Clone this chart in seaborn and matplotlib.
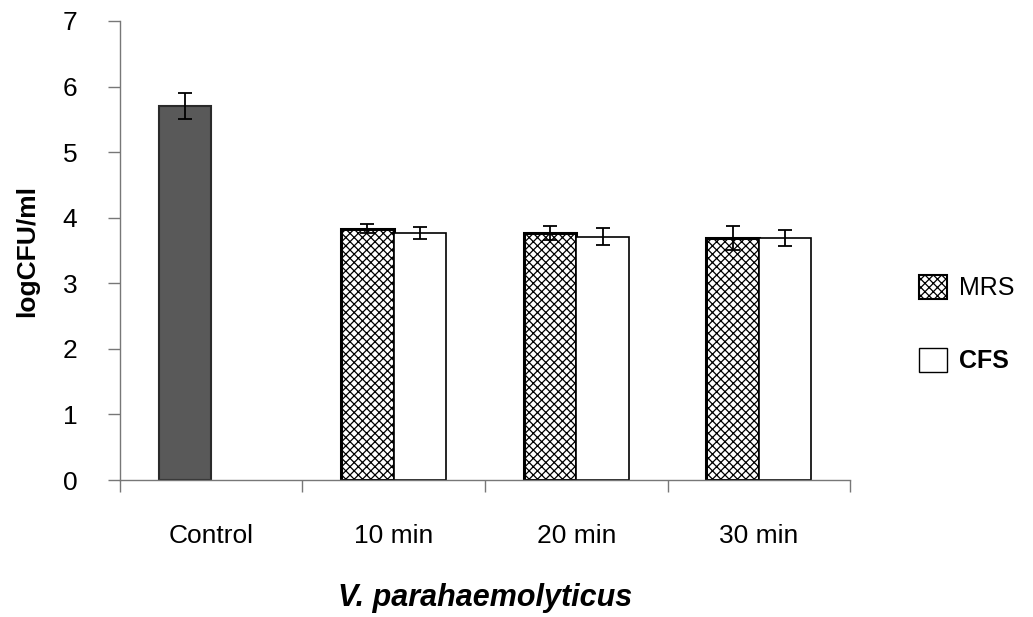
import numpy as np
import pandas as pd
import matplotlib
matplotlib.use("Agg")
import matplotlib.pyplot as plt
import seaborn as sns
from matplotlib.patches import Patch

categories = ["Control", "10 min", "20 min", "30 min"]
mrs_values = [5.70, 3.83, 3.77, 3.69]
mrs_errors = [0.20, 0.07, 0.11, 0.18]
cfs_values = [np.nan, 3.77, 3.71, 3.69]
cfs_errors = [np.nan, 0.09, 0.13, 0.12]
series = ["MRS", "CFS"]
y_ticks = [0, 1, 2, 3, 4, 5, 6, 7]

sns.set_theme(style="white")
plt.rcParams['font.family'] = ['Liberation Sans', 'DejaVu Sans']
plt.rcParams['text.color'] = 'black'
plt.rcParams['axes.labelcolor'] = 'black'
plt.rcParams['xtick.color'] = 'black'
plt.rcParams['ytick.color'] = 'black'
plt.rcParams['hatch.linewidth'] = 0.9

df = pd.DataFrame({
    "group": categories * 2,
    "series": [series[0]] * 4 + [series[1]] * 4,
    "value": mrs_values + cfs_values,
})

fig = plt.figure(figsize=(10.33, 6.17), dpi=100)
ax = fig.add_axes([0.116, 0.222, 0.707, 0.744])

sns.barplot(data=df, x="group", y="value", hue="series", order=categories,
            hue_order=series, width=0.575, gap=0, errorbar=None, ax=ax,
            legend=False, palette=["white", "white"])

for p in list(ax.patches):
    xc = p.get_x() + p.get_width() / 2
    i = int(round(xc))
    is_mrs = xc < i
    if is_mrs:
        v, e = mrs_values[i], mrs_errors[i]
        if categories[i] == "Control":
            p.set_facecolor("#595959")
            p.set_edgecolor("#2a2a2a")
            p.set_linewidth(1.5)
        else:
            p.set_facecolor("white")
            p.set_edgecolor("black")
            p.set_hatch("xxxx")
            p.set_linewidth(2.2)
    else:
        v, e = cfs_values[i], cfs_errors[i]
        p.set_facecolor("white")
        p.set_edgecolor("black")
        p.set_linewidth(1.2)
    if not np.isnan(v):
        ax.errorbar(xc, v, yerr=e, color="black", capsize=5, elinewidth=1.3,
                    capthick=1.3, fmt="none", zorder=5)

n = len(categories)
ax.set_ylim(0, 7)
ax.set_yticks(y_ticks)
ax.set_xlim(-0.5, n - 0.5)
ax.set_xticks(range(n))
ax.set_xticklabels(categories)
ax.set_xticks(np.arange(-0.5, n, 1.0), minor=True)
ax.tick_params(axis="x", which="major", length=0, pad=32, labelsize=19)
ax.tick_params(axis="x", which="minor", length=8.5, width=1, color="#777777", direction="out", bottom=True)
ax.tick_params(axis="y", length=8.5, width=1, color="#777777", direction="out", left=True, labelsize=19, pad=22)

for s in ["top", "right"]:
    ax.spines[s].set_visible(False)
for s in ["left", "bottom"]:
    ax.spines[s].set_color("#777777")
    ax.spines[s].set_linewidth(1)

ax.set_ylabel("logCFU/ml", fontsize=19, fontweight="bold", labelpad=17)
ax.set_xlabel("V. parahaemolyticus", fontsize=22, fontweight="bold", style="italic", labelpad=25)

handles = [Patch(facecolor="white", edgecolor="black", hatch="xxxx", linewidth=1.5),
           Patch(facecolor="white", edgecolor="black", linewidth=1)]
leg = fig.legend(handles, series, loc="center left", bbox_to_anchor=(0.89, 0.475),
                 frameon=False, fontsize=18, labelspacing=1.9, handlelength=1.1,
                 handleheight=1.1, handletextpad=0.5, borderpad=0, borderaxespad=0)
texts = leg.get_texts()
texts[1].set_fontweight("bold")

fig.savefig("out.png", dpi=100)
